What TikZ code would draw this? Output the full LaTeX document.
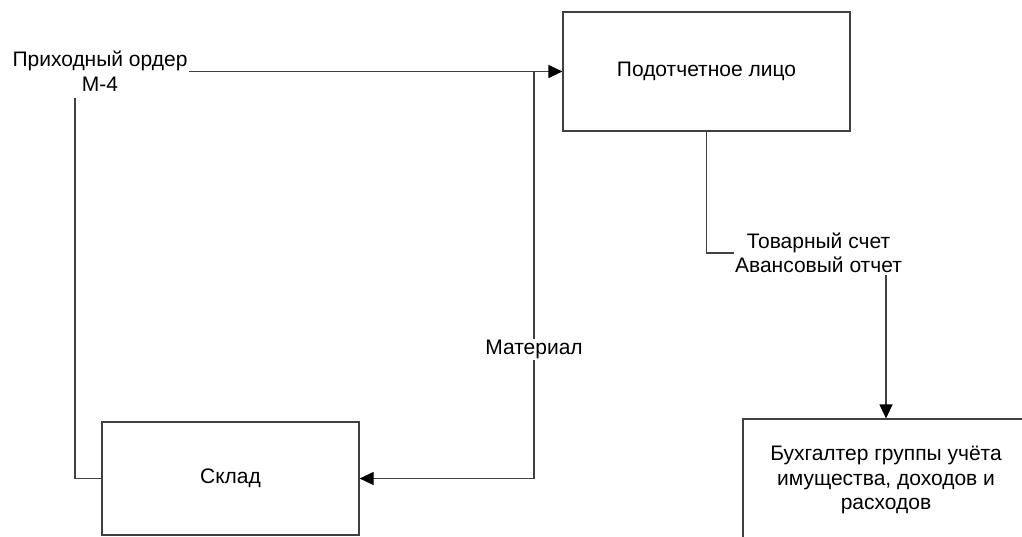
\documentclass[tikz,border=0pt]{standalone}
\usepackage{fontspec}
\setmainfont{Liberation Sans}
\usetikzlibrary{positioning,arrows.meta}

\begin{document}
\begin{tikzpicture}[
x=0.5pt,y=-0.5pt,
box/.style={
    rectangle,
    draw=black!75,
    align=center,
    inner sep=0pt,
    line width=0.6pt,
    font=\fontsize{10.5}{12.3}\selectfont
    },
lbl/.style={
    align=center,
    inner sep=0.6pt,
    font=\fontsize{10.5}{12.3}\selectfont
    },
link/.style={
    line width=0.6pt,
    draw=black!75},
flow/.style={
    link,
    -{Triangle[length=7pt,width=6.5pt,color=black]}}
]
\clip (0,0) rectangle (1022,536);
\node(litso) at (706.5,71.5) [box,minimum width=143.5pt,minimum height=59.5pt] {Подотчетное лицо};
\node(sklad) at (230.5,478.5) [box,minimum width=128.5pt,minimum height=56.5pt] {Склад};
\node(buh) at (886,480) [box,minimum width=143pt,minimum height=61pt] {Бухгалтер группы учёта\\имущества, доходов и\\расходов};
\node(prihod) at (100,71.5) [lbl] {Приходный ордер\\М-4};
\node(tovar) at (818.5,253) [lbl] {Товарный счет\\Авансовый отчет};
\coordinate(branch) at (534,71.5);
\coordinate(prihodfoot) at (75,98);
\draw[flow] (prihod.east) -- (litso.west);
\draw[flow] (branch) |- node[lbl,fill=white,pos=0.342] {Материал} (sklad.east);
\draw[link] (sklad.west) -| (prihodfoot);
\draw[link] (litso.south) |- (tovar.west);
\draw[flow] (tovar.south -| buh.north) -- (buh.north);
\end{tikzpicture}
\end{document}
